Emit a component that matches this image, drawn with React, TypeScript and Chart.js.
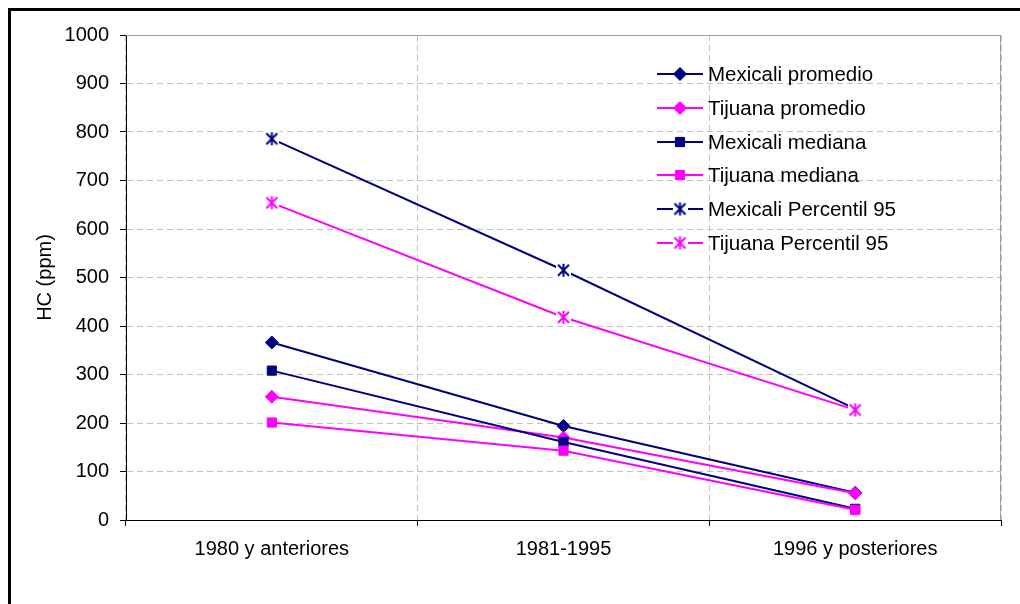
import React, { useEffect, useRef } from 'react';
import { Chart, registerables } from 'chart.js';

Chart.register(...registerables);

const categories = ['1980 y anteriores', '1981-1995', '1996 y posteriores'];
const mexicaliPromedio = [366, 194, 56];
const tijuanaPromedio = [254, 170, 55];
const mexicaliMediana = [308, 161, 23];
const tijuanaMediana = [201, 143, 21];
const mexicaliP95 = [786, 515, 229];
const tijuanaP95 = [654, 418, 227];
const yMin = 0;
const yMax = 1000;
const yStep = 100;

const NAVY = '#000080';
const MAGENTA = '#FF00FF';
const FONT = '"Liberation Sans", Arial, sans-serif';

function makeStar(color: string): HTMLCanvasElement {
  const c = document.createElement('canvas');
  c.width = 15;
  c.height = 15;
  const ctx = c.getContext('2d')!;
  ctx.fillStyle = '#fff';
  ctx.fillRect(0, 0, 15, 15);
  ctx.strokeStyle = color;
  ctx.lineWidth = 2;
  ctx.beginPath();
  ctx.moveTo(2, 2);
  ctx.lineTo(13, 13);
  ctx.moveTo(13, 2);
  ctx.lineTo(2, 13);
  ctx.moveTo(7.5, 1);
  ctx.lineTo(7.5, 14);
  ctx.stroke();
  return c;
}

function drawMarker(ctx: CanvasRenderingContext2D, style: any, x: number, y: number, r: number, color: string) {
  ctx.save();
  ctx.fillStyle = color;
  ctx.strokeStyle = color;
  ctx.lineWidth = 1;
  if (style === 'rectRot') {
    ctx.beginPath();
    ctx.moveTo(x - r, y);
    ctx.lineTo(x, y - r);
    ctx.lineTo(x + r, y);
    ctx.lineTo(x, y + r);
    ctx.closePath();
    ctx.fill();
    ctx.stroke();
  } else if (style === 'rect') {
    const s = Math.SQRT1_2 * r;
    ctx.beginPath();
    ctx.rect(x - s, y - s, 2 * s, 2 * s);
    ctx.fill();
    ctx.stroke();
  } else if (style instanceof HTMLCanvasElement) {
    ctx.drawImage(style, x - style.width / 2, y - style.height / 2);
  }
  ctx.restore();
}

const plotBorderPlugin = {
  id: 'plotBorder',
  beforeDatasetsDraw(chart: any) {
    const { ctx, chartArea } = chart;
    ctx.save();
    ctx.strokeStyle = '#a0a0a0';
    ctx.lineWidth = 1;
    ctx.beginPath();
    ctx.moveTo(chartArea.left, chartArea.top + 0.5);
    ctx.lineTo(chartArea.right, chartArea.top + 0.5);
    ctx.moveTo(chartArea.right - 0.5, chartArea.top);
    ctx.lineTo(chartArea.right - 0.5, chartArea.bottom);
    ctx.stroke();
    ctx.restore();
  },
};

const customLegendPlugin = {
  id: 'customLegend',
  afterDraw(chart: any) {
    const { ctx } = chart;
    const x0 = 657;
    const x1 = 703;
    const xm = (x0 + x1) / 2;
    const tx = 708;
    const y0 = 74;
    const dy = 33.8;
    ctx.save();
    chart.data.datasets.forEach((ds: any, i: number) => {
      const y = Math.round(y0 + i * dy);
      ctx.strokeStyle = ds.borderColor;
      ctx.lineWidth = ds.borderWidth;
      ctx.beginPath();
      ctx.moveTo(x0, y);
      ctx.lineTo(x1, y);
      ctx.stroke();
      drawMarker(ctx, ds.pointStyle, xm, y, ds.pointRadius, ds.borderColor);
      ctx.fillStyle = '#000';
      ctx.font = `20.5px ${FONT}`;
      ctx.textAlign = 'left';
      ctx.textBaseline = 'middle';
      ctx.fillText(ds.label, tx, y + 1);
    });
    ctx.restore();
  },
};

export default function App() {
  const canvasRef = useRef<HTMLCanvasElement | null>(null);

  useEffect(() => {
    const canvas = canvasRef.current;
    if (!canvas) return;
    const starNavy = makeStar(NAVY);
    const starMagenta = makeStar(MAGENTA);

    const mk = (label: string, data: number[], color: string, pointStyle: any, idx: number) => ({
      label,
      data,
      borderColor: color,
      backgroundColor: color,
      pointBackgroundColor: color,
      pointBorderColor: color,
      borderWidth: 2,
      pointBorderWidth: 1,
      pointRadius: 6.5,
      pointHoverRadius: 6.5,
      pointStyle,
      tension: 0,
      order: 10 - idx,
    });

    const gridCommon = {
      color: '#c0c0c0',
      lineWidth: 1,
      tickLength: 6,
      tickColor: '#000',
      tickBorderDash: [],
      tickWidth: 1,
    };

    const chart = new Chart(canvas, {
      type: 'line',
      data: {
        labels: categories,
        datasets: [
          mk('Mexicali promedio', mexicaliPromedio, NAVY, 'rectRot', 0),
          mk('Tijuana promedio', tijuanaPromedio, MAGENTA, 'rectRot', 1),
          mk('Mexicali mediana', mexicaliMediana, NAVY, 'rect', 2),
          mk('Tijuana mediana', tijuanaMediana, MAGENTA, 'rect', 3),
          mk('Mexicali Percentil 95', mexicaliP95, NAVY, starNavy, 4),
          mk('Tijuana Percentil 95', tijuanaP95, MAGENTA, starMagenta, 5),
        ] as any,
      },
      options: {
        responsive: false,
        animation: false,
        devicePixelRatio: 1,
        layout: { padding: { left: 0, top: 35, right: 19, bottom: 0 } },
        plugins: {
          legend: { display: false },
          tooltip: { enabled: false },
        },
        font: { family: FONT, size: 20 },
        scales: {
          x: {
            offset: true,
            grid: { ...gridCommon, offset: true },
            border: { color: '#000', width: 1, dash: [6, 4] },
            ticks: { color: '#000', padding: 11, maxRotation: 0, font: { family: FONT, size: 20 } },
            afterFit: (s: any) => {
              s.height = 84;
            },
          },
          y: {
            min: yMin,
            max: yMax,
            grid: { ...gridCommon },
            border: { color: '#000', width: 1, dash: [6, 4] },
            ticks: {
              stepSize: yStep,
              color: '#000',
              padding: 11,
              font: { family: FONT, size: 20 },
              callback: (v: any) => String(v),
            },
            title: {
              display: true,
              text: 'HC (ppm)',
              color: '#000',
              font: { family: FONT, size: 20 },
              padding: { top: 33, bottom: 0 },
            },
            afterFit: (s: any) => {
              s.width = 126;
            },
          },
        },
      } as any,
      plugins: [plotBorderPlugin, customLegendPlugin],
    });
    return () => chart.destroy();
  }, []);

  return (
    <div
      style={{
        position: 'fixed',
        left: 0,
        top: 0,
        width: 1020,
        height: 604,
        overflow: 'hidden',
        background: '#fff',
      }}
    >
      <div
        style={{
          position: 'absolute',
          left: 8,
          top: 8,
          width: 1100,
          height: 700,
          border: '3px solid #000',
          boxSizing: 'border-box',
        }}
      />
      <canvas
        ref={canvasRef}
        width={1020}
        height={604}
        style={{ position: 'absolute', left: 0, top: 0, width: 1020, height: 604 }}
      />
    </div>
  );
}
